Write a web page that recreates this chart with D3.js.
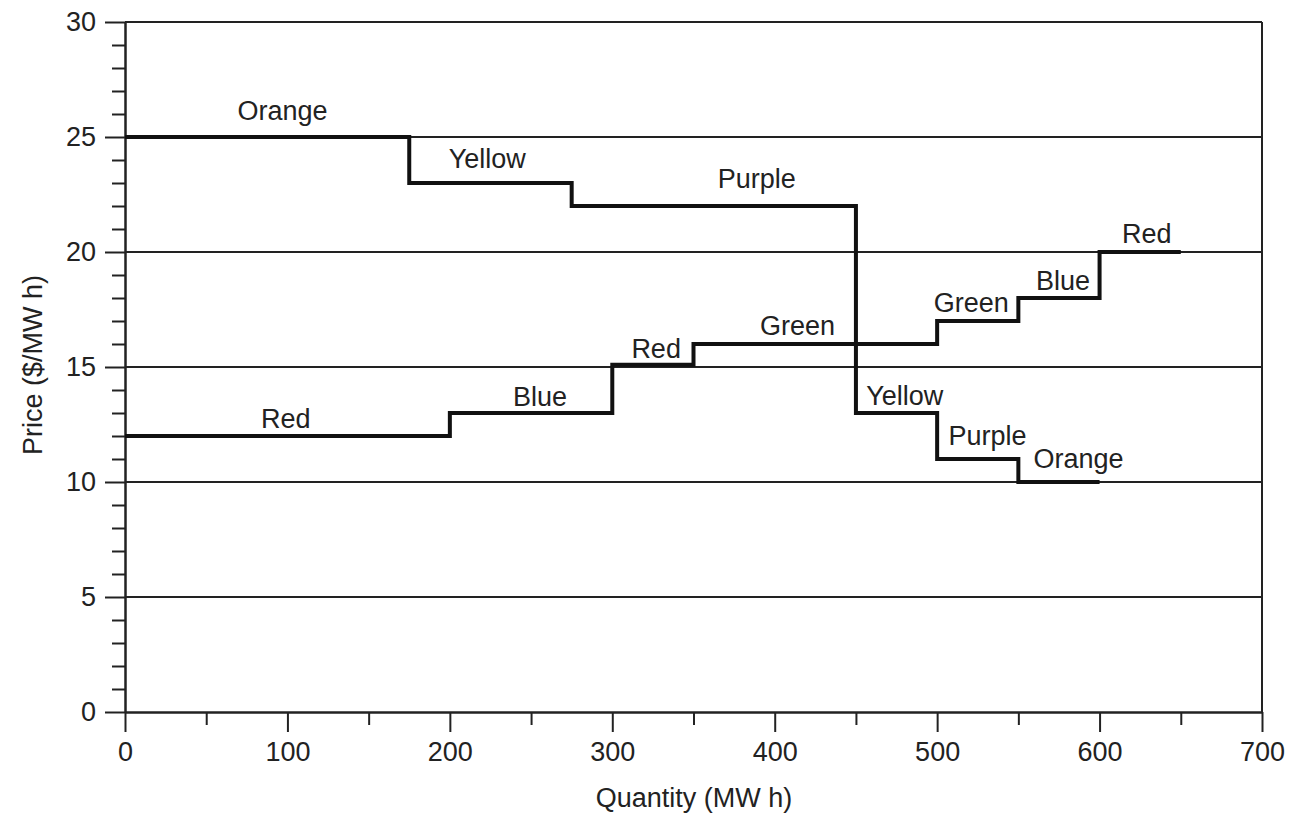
<!DOCTYPE html>
<html>
<head>
<meta charset="utf-8">
<script src="https://cdn.jsdelivr.net/npm/d3@7"></script>
<style>
  body { margin: 0; background: #fff; }
  text { font-family: "Liberation Sans", Arial, sans-serif; fill: #222; }
</style>
</head>
<body>
<svg width="1295" height="816"></svg>
<script>
// demand (offer) steps, falling
const demandQty = [0, 175, 275, 450, 500, 550, 600];
const demandPrice = [25, 23, 22, 13, 11, 10];
const demandNames = ['Orange', 'Yellow', 'Purple', 'Yellow', 'Purple', 'Orange'];

// supply steps, rising
const supplyQty = [0, 200, 300, 350, 500, 550, 600, 650];
const supplyPrice = [12, 13, 15.1, 16, 17, 18, 20];
const supplyNames = ['Red', 'Blue', 'Red', 'Green', 'Green', 'Blue', 'Red'];

// where each step's name sits (data units)
const demandLabelQty = [97, 223, 389, 480, 531, 587];
const demandLabelPrice = [25.74, 23.65, 22.78, 13.35, 11.6, 10.6];
const supplyLabelQty = [99, 255.5, 327, 414, 521, 577.5, 629];
const supplyLabelPrice = [12.35, 13.3, 15.4, 16.4, 17.4, 18.35, 20.4];

const xMajor = [0, 100, 200, 300, 400, 500, 600, 700];
const xMinor = [50, 150, 250, 350, 450, 550, 650];
const yMajor = [0, 5, 10, 15, 20, 25, 30];
const yMinor = d3.range(0, 31).filter(v => v % 5 !== 0);
const gridVals = [5, 10, 15, 20, 25, 30];

const margin = {left: 125, right: 33, top: 22, bottom: 104};
const W = 1295, H = 816;

const svg = d3.select('svg');

const xScale = d3.scaleLinear().domain([0, 700]).range([margin.left, W - margin.right]);
const yScale = d3.scaleLinear().domain([0, 30]).range([H - margin.bottom, margin.top]);

// horizontal grid lines + top frame
svg.append('g')
    .selectAll('line')
    .data(gridVals)
    .enter()
    .append('line')
    .attr('x1', xScale(0))
    .attr('x2', xScale(700))
    .attr('y1', d => yScale(d))
    .attr('y2', d => yScale(d))
    .attr('stroke', '#222')
    .attr('stroke-width', 2);

// right frame
svg.append('line')
    .attr('x1', xScale(700)).attr('x2', xScale(700))
    .attr('y1', yScale(0)).attr('y2', yScale(30))
    .attr('stroke', '#222').attr('stroke-width', 2);

const styleAxis = g => {
    g.selectAll('path, line').attr('stroke', '#222').attr('stroke-width', 2);
    g.selectAll('text').attr('font-size', 27).attr('fill', '#222')
        .attr('font-family', '"Liberation Sans", Arial, sans-serif');
};

// x axis
svg.append('g')
    .attr('transform', `translate(0, ${yScale(0)})`)
    .call(d3.axisBottom(xScale).tickValues(xMajor).tickSize(20).tickSizeOuter(0).tickPadding(10))
    .call(styleAxis);
svg.append('g')
    .attr('transform', `translate(0, ${yScale(0)})`)
    .call(d3.axisBottom(xScale).tickValues(xMinor).tickSize(13).tickSizeOuter(0).tickFormat(''))
    .call(styleAxis);

// y axis
svg.append('g')
    .attr('transform', `translate(${xScale(0)}, 0)`)
    .call(d3.axisLeft(yScale).tickValues(yMajor).tickSize(20).tickSizeOuter(0).tickPadding(9))
    .call(styleAxis);
svg.append('g')
    .attr('transform', `translate(${xScale(0)}, 0)`)
    .call(d3.axisLeft(yScale).tickValues(yMinor).tickSize(13).tickSizeOuter(0).tickFormat(''))
    .call(styleAxis);

// step curves
const stepLine = d3.line()
    .x(d => xScale(d[0]))
    .y(d => yScale(d[1]))
    .curve(d3.curveStepAfter);

const toSteps = (qty, price) => {
    let pts = price.map((p, i) => [qty[i], p]);
    pts.push([qty[qty.length - 1], price[price.length - 1]]);
    return pts;
};

[[demandQty, demandPrice], [supplyQty, supplyPrice]].forEach(s => {
    svg.append('path')
        .datum(toSteps(s[0], s[1]))
        .attr('d', stepLine)
        .attr('fill', 'none')
        .attr('stroke', '#111')
        .attr('stroke-width', 4)
        .attr('stroke-linejoin', 'miter');
});

// step names
const labels = demandNames.map((n, i) => ({name: n, q: demandLabelQty[i], p: demandLabelPrice[i]}))
    .concat(supplyNames.map((n, i) => ({name: n, q: supplyLabelQty[i], p: supplyLabelPrice[i]})));

svg.append('g')
    .selectAll('text')
    .data(labels)
    .enter()
    .append('text')
    .attr('x', d => xScale(d.q))
    .attr('y', d => yScale(d.p))
    .attr('text-anchor', 'middle')
    .attr('font-size', 27)
    .text(d => d.name);

// axis titles
svg.append('text')
    .attr('x', 694)
    .attr('y', 807)
    .attr('text-anchor', 'middle')
    .attr('font-size', 27)
    .text('Quantity (MW h)');

svg.append('text')
    .attr('transform', 'translate(42, 365) rotate(-90)')
    .attr('text-anchor', 'middle')
    .attr('font-size', 27)
    .text('Price ($/MW h)');
</script>
</body>
</html>
